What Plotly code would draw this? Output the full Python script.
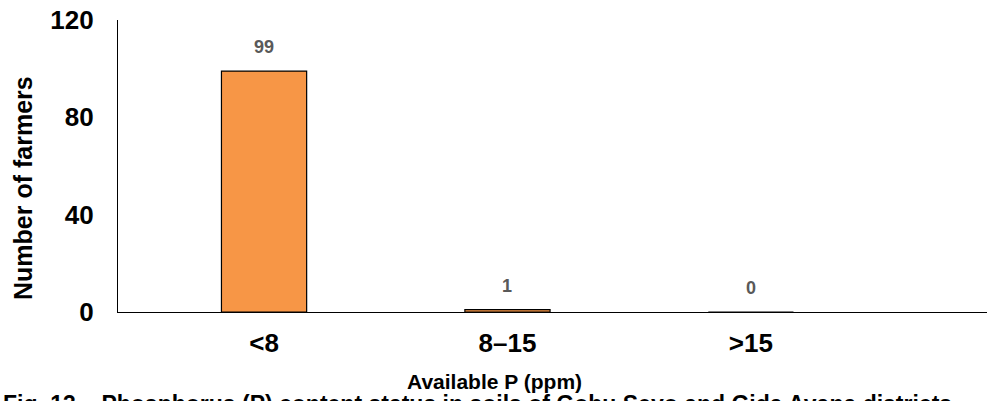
import plotly.graph_objects as go

categories = ["<8", "8–15", ">15"]
farmers = [99, 1, 0]
y_ticks = [0, 40, 80, 120]

FONT = "Liberation Sans, Arial, sans-serif"

fig = go.Figure()
fig.add_trace(go.Bar(
    x=list(range(len(categories))),
    y=farmers,
    width=0.35,
    marker=dict(color="#F79646", line=dict(color="#000000", width=1.2)),
    hoverinfo="skip",
))

for i, v in enumerate(farmers):
    fig.add_annotation(
        x=i, y=v, text=f"<b>{v}</b>", showarrow=False,
        yshift=24, font=dict(family=FONT, size=18, color="#595959"),
    )

# axis titles as annotations to match their off-centre positions
fig.add_annotation(
    xref="paper", yref="paper", x=(494 - 118) / 869, y=-(381 - 312) / 292,
    xanchor="center", yanchor="middle", showarrow=False,
    text="<b>Available P (ppm)</b>", font=dict(family=FONT, size=21, color="#000000"),
)
fig.add_annotation(
    xref="paper", yref="paper", x=-(118 - 23) / 869, y=(312 - 188) / 292,
    xanchor="center", yanchor="middle", showarrow=False, textangle=-90,
    text="<b>Number of farmers</b>", font=dict(family=FONT, size=25, color="#000000"),
)

fig.add_annotation(
    xref="paper", yref="paper", x=-0.135, y=-0.265, xanchor="left", yanchor="top",
    text="<b>Fig. 13 – Phosphorus (P) content status in soils of Gobu Seyo and Gida Ayana districts</b>",
    showarrow=False, font=dict(family=FONT, size=23, color="#000000"),
)

fig.update_layout(
    width=987, height=401,
    margin=dict(l=118, r=0, t=20, b=89),
    plot_bgcolor="white", paper_bgcolor="white",
    showlegend=False,
    xaxis=dict(
        range=[-0.6, 2.97],
        tickmode="array", tickvals=list(range(len(categories))),
        ticktext=[f"<b>{c}</b>" for c in categories],
        tickfont=dict(family=FONT, size=26, color="#000000"),
        ticklabelstandoff=8,
        showline=True, linecolor="#000000", linewidth=1.2,
        showgrid=False, zeroline=False, ticks="", ticklen=0,
        automargin=False,
    ),
    yaxis=dict(
        range=[0, 120],
        tickmode="array", tickvals=y_ticks,
        ticktext=[f"<b>{t}</b>" for t in y_ticks],
        tickfont=dict(family=FONT, size=26, color="#000000"),
        ticklabelstandoff=18,
        showline=True, linecolor="#000000", linewidth=1.2,
        showgrid=False, zeroline=False, ticks="", ticklen=0,
        automargin=False,
    ),
)

fig.write_html("out.html")
